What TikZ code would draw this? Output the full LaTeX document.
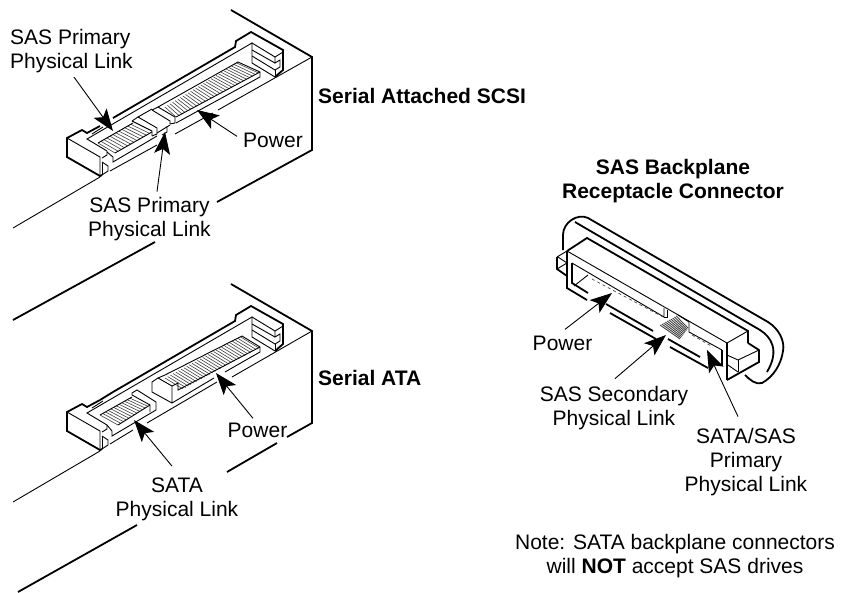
\documentclass[tikz,border=0pt]{standalone}
\usepackage{fontspec}
\setmainfont{Liberation Sans}
\usetikzlibrary{arrows.meta,calc}
\tikzset{
	heavy/.style={line width=1.8pt,line join=miter},
	fine/.style={line width=0.9pt},
	comb/.style={line width=0.6pt,black!75},
	callout/.style={line width=0.9pt,-{Stealth[length=22pt,width=16pt,inset=5pt]}},
	lbl/.style={inner sep=0pt,align=center,font=\fontsize{21}{24}\selectfont},
	lbb/.style={lbl,font=\fontsize{21}{24}\selectfont\bfseries}
}
\begin{document}
\begin{tikzpicture}[x=1pt,y=-1pt]
	\useasboundingbox (0,0) rectangle (842,592);
	%Drive bodies
		%Top drive
		\draw [heavy] (231,10) -- (312,57) -- (312,150) -- (217,202);
		\draw [heavy] (155,242) -- (13,320);
		\draw [fine] (312,57) -- (218,110);
		\draw [fine] (213,113) -- (175,134);
		\draw [fine] (157,145) -- (110,171);
		\draw [fine] (100,177) -- (13,228);
		%Bottom drive
		\draw [heavy] (231,284) -- (312,331) -- (312,423) -- (287,437);
		\draw [heavy] (277,443) -- (227,472);
		\draw [heavy] (137,525) -- (18,592);
		\draw [fine] (312,331) -- (232,377);
		\draw [fine] (217,382) -- (147,423);
		\draw [fine] (133,430) -- (110,444);
		\draw [fine] (100,451) -- (13,502);
	%Parts that both connectors share
	\foreach \dy in {0,274} {
		\begin{scope}[shift={(0,\dy)}]
			%Outer shell
			\draw [heavy] (102,175) -- (100,176) -- (67,157) -- (67,138) -- (82,130) -- (87,133) -- (100,126);
			\draw [heavy] (113,118) -- (235,47) -- (236,41) -- (251,32) -- (283,50) -- (283,70) -- (275,77);
			%Front face
			\draw [fine] (67,138) -- (100,157) -- (100,176);
			\draw [fine] (102,175) -- (108,171) -- (108,166) -- (102,162);
			\draw [fine] (102,162) -- (102,175);
			%Cavity rim
			\draw [fine] (107,151) -- (87,139) -- (252,43) -- (252,63) -- (275,77);
			\draw [fine] (107,151) -- (107,155) -- (102,158);
			\draw [fine] (92,134) -- (103,127);
			%End guide
			\draw [fine] (252,43) -- (275,57) -- (283,52);
			\draw [fine] (275,57) -- (275,63) -- (280,60) -- (280,67) -- (275,70) -- (252,56);
			\draw [fine] (252,50) -- (275,63);
			\draw [fine] (275,70) -- (275,77);
		\end{scope}
	}
	%Gap-closing shell piece of the bottom connector
		\draw [heavy] (100,400) -- (113,392);
	%Top connector blades
		\foreach \t in {0,0.085,...,1} {
			\draw [comb] ($(98,143)!\t!(133,123)$) -- ($(115,153)!\t!(152,132)$);
		}
		\draw [fine] (98,143) -- (133,123);
		\draw [fine] (107,152) -- (113,157) -- (113,162) -- (157,136);
		\draw [fine] (115,153) -- (152,132);
		\draw [fine] (132,121) -- (138,117) -- (157,128) -- (157,134) -- (152,136);
		\draw [fine] (132,121) -- (152,131) -- (152,136);
		%Key
		\draw [fine] (152,110) -- (158,107) -- (175,117) -- (175,123) -- (170,124);
		\draw [fine] (152,110) -- (170,121) -- (170,124);
		\draw [fine] (138,117) -- (152,109);
		\draw [fine] (157,133) -- (170,125);
		\draw [fine] (162,135) -- (167,132) -- (167,126);
		%Power blade
		\foreach \t in {0,0.035,...,1} {
			\draw [comb] ($(165,107)!\t!(238,62)$) -- ($(176,117)!\t!(260,72)$);
		}
		\draw [fine] (158,107) -- (238,62) -- (260,72) -- (260,77) -- (176,123);
		\draw [fine] (260,72) -- (176,117);
	%Bottom connector blades
		\foreach \t in {0,0.085,...,1} {
			\draw [comb] ($(100,415)!\t!(132,397)$) -- ($(118,425)!\t!(150,405)$);
		}
		\draw [fine] (100,415) -- (132,397);
		\draw [fine] (107,425) -- (112,431) -- (112,436) -- (156,410) -- (156,402) -- (137,390) -- (132,393) -- (132,395);
		\draw [fine] (132,395) -- (150,405) -- (150,412);
		\draw [fine] (118,425) -- (150,405);
		%Power blade
		\foreach \t in {0,0.035,...,1} {
			\draw [comb] ($(165,378)!\t!(242,336)$) -- ($(183,389)!\t!(260,347)$);
		}
		\draw [fine] (158,378) -- (165,375) -- (242,336) -- (260,347) -- (260,352) -- (225,372);
		\draw [fine] (214,378) -- (172,403) -- (152,392) -- (152,382) -- (158,378) -- (172,386) -- (172,403);
		\draw [fine] (172,386) -- (178,383) -- (178,390) -- (260,347);
	%Backplane connector
		%Flange
		\draw [heavy] (563,250) -- (563,235) .. controls (563,222) and (578,213) .. (588,218) -- (768,322) .. controls (779,329) and (785,341) .. (783,351) .. controls (781,365) and (773,377) .. (762,383) .. controls (756,385) and (750,380) .. (745,375);
		\draw [heavy] (575,222) -- (760,330) .. controls (771,337) and (780,350) .. (767,372);
		%Body
		\draw [heavy] (567,251) -- (587,238) -- (748,331) -- (748,343);
		\draw [heavy] (567,251) -- (567,288) -- (587,300);
		\draw [fine] (567,251) -- (727,343);
		\draw [heavy] (727,343) -- (727,380);
		\draw [heavy] (610,313) -- (656,339);
		\draw [heavy] (670,347) -- (708,368);
		%Cavity
		\draw [heavy] (572,263) -- (572,283) -- (588,293);
		\draw [fine] (572,263) -- (664,317) -- (664,308);
		\draw [fine] (664,317) -- (667,317) -- (667,310);
		\draw [fine] (689,322) -- (689,332) -- (722,350);
		\draw [heavy] (722,350) -- (722,366);
		\draw [fine] (574,286) -- (588,275);
		\draw [heavy] (606,304) -- (653,331);
		\draw [heavy] (668,339) -- (700,357);
		%Left tab
		\draw [fine] (557,257) -- (567,251);
		\draw [heavy] (557,257) -- (557,269) -- (567,276);
		\draw [fine] (557,269) -- (567,263);
		\draw [fine] (558,257) -- (567,263);
		%Right tab
		\draw [fine] (727,343) -- (748,331);
		\draw [heavy] (748,343) -- (759,350) -- (759,362) -- (727,380);
		\draw [fine] (727,355) -- (738,360) -- (759,350);
		\draw [fine] (738,360) -- (738,372);
		\draw [fine] (728,365) -- (738,372);
		%Contacts
		\draw [dashed,line width=0.7pt,black!70] (592,279) -- (663,317);
		\draw [dashed,line width=0.7pt,black!70] (692,335) -- (713,347);
		\foreach \t in {0,0.1,...,1} {
			\draw [comb,line width=0.9pt] ($(660,325)!\t!(678,315)$) -- ($(680,339)!\t!(689,327)$);
		}
		\draw [fine] (678,315) -- (689,322);
	%Labels
		\node [lbl,align=left,anchor=base west] (primaryA) at (10,68) {SAS Primary\\Physical Link};
		\node [lbl,anchor=base] (powerA) at (273,147) {Power};
		\node [lbl,anchor=base] (primaryB) at (149.5,236) {SAS Primary\\Physical Link};
		\node [lbb,anchor=base west] (sasName) at (318,103) {Serial Attached SCSI};
		\node [lbl,anchor=base] (powerB) at (257.5,437) {Power};
		\node [lbl,anchor=base] (sataLink) at (177,516) {SATA\\Physical Link};
		\node [lbb,anchor=base west] (sataName) at (318,385) {Serial ATA};
		\node [lbb,anchor=base] (backName) at (673,198) {SAS Backplane\\Receptacle Connector};
		\node [lbl,anchor=base] (powerC) at (562.5,350) {Power};
		\node [lbl,anchor=base] (secLink) at (614,425) {SAS Secondary\\Physical Link};
		\node [lbl,anchor=base] (priLink) at (746,491) {SATA/SAS\\Primary\\Physical Link};
		\node [lbl,anchor=base] (noteText) at (675,573) {Note: SATA backplane connectors\\will \textbf{NOT} accept SAS drives};
	%Arrow tips
		\coordinate (tipA) at (113,131);
		\coordinate (tipB) at (165,132);
		\coordinate (tipC) at (197,110);
		\coordinate (tipD) at (134,420);
		\coordinate (tipE) at (216,373);
		\coordinate (tipF) at (612,293);
		\coordinate (tipG) at (666,335);
		\coordinate (tipH) at (707,350);
	%Arrows
		\draw [callout] ([xshift=2.5pt,yshift=-4.5pt]primaryA.south) -- (tipA);
		\draw [callout] ([xshift=7.5pt,yshift=5pt]primaryB.north) -- (tipB);
		\draw [callout] ([xshift=-6pt,yshift=3.5pt]powerA.west) -- (tipC);
		\draw [callout] ([xshift=-5pt,yshift=11pt]sataLink.north) -- (tipD);
		\draw [callout] ([xshift=-4.5pt,yshift=4pt]powerB.north) -- (tipE);
		\draw [callout] ([xshift=2.5pt,yshift=6pt]powerC.north) -- (tipF);
		\draw [callout] ([xshift=1pt,yshift=7pt]secLink.north) -- (tipG);
		\draw [callout] ([xshift=-8pt,yshift=11pt]priLink.north) -- (tipH);
\end{tikzpicture}
\end{document}
